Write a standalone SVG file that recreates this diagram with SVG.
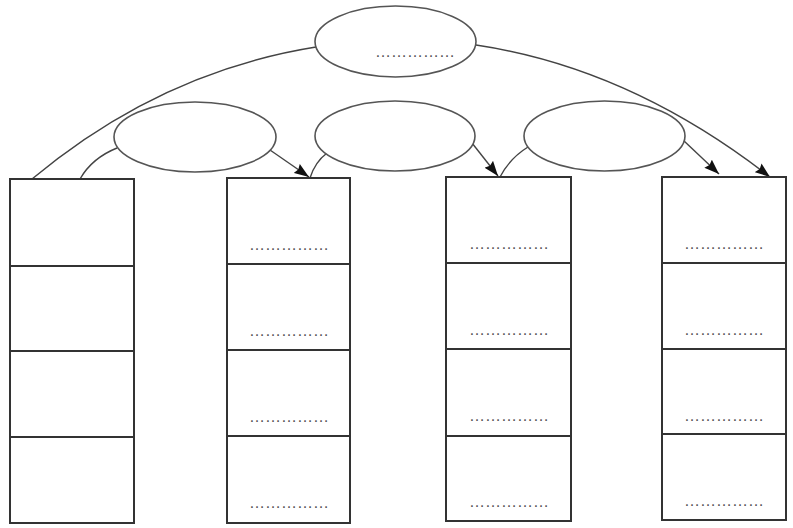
<svg xmlns="http://www.w3.org/2000/svg" width="793" height="528" viewBox="0 0 793 528">
<style>
.box{fill:#fff;stroke:#333;stroke-width:2}
.div{stroke:#333;stroke-width:2}
.ell{fill:#fff;stroke:#555;stroke-width:1.6}
.con{fill:none;stroke:#444;stroke-width:1.4}
.dots{font-family:"Liberation Sans",Arial,sans-serif;font-size:16px;fill:#555}
</style>
<defs>
<marker id="arr" viewBox="0 0 15 11" refX="15" refY="5.5" markerWidth="15" markerHeight="11" markerUnits="userSpaceOnUse" orient="auto">
<path d="M0,0 L15,5.5 L0,11 L2,5.5 Z" fill="#111"/>
</marker>
</defs>
<rect width="793" height="528" fill="#fff"/>
<g id="connectors">
<path class="con" d="M316,47 Q160,72 32,179"/>
<path class="con" d="M476,45 Q630,68 770,177" marker-end="url(#arr)"/>
<path class="con" d="M117,148 Q92,158 80,179"/>
<path class="con" d="M270,150 L309,177" marker-end="url(#arr)"/>
<path class="con" d="M327,153 Q315,162 310,178"/>
<path class="con" d="M472,143 L498,176" marker-end="url(#arr)"/>
<path class="con" d="M528,147 Q510,158 500,177"/>
<path class="con" d="M683,140 L719,174" marker-end="url(#arr)"/>
</g>
<g id="ellipse-top">
<ellipse class="ell" cx="395.5" cy="41.5" rx="80.5" ry="35.5"/>
<text class="dots" x="375" y="57">……………</text>
</g>
<g id="ellipse-1"><ellipse class="ell" cx="195" cy="137" rx="81" ry="35"/></g>
<g id="ellipse-2"><ellipse class="ell" cx="395" cy="136" rx="80" ry="35"/></g>
<g id="ellipse-3"><ellipse class="ell" cx="604.5" cy="136" rx="80.5" ry="35"/></g>
<g id="column-1">
<rect class="box" x="10" y="179" width="124" height="344"/>
<line class="div" x1="10" y1="266" x2="134" y2="266"/>
<line class="div" x1="10" y1="351" x2="134" y2="351"/>
<line class="div" x1="10" y1="437" x2="134" y2="437"/>
</g>
<g id="column-2">
<rect class="box" x="227" y="178" width="123" height="345"/>
<line class="div" x1="227" y1="264" x2="350" y2="264"/>
<line class="div" x1="227" y1="350" x2="350" y2="350"/>
<line class="div" x1="227" y1="436" x2="350" y2="436"/>
<text class="dots" x="249" y="250">……………</text>
<text class="dots" x="249" y="336">……………</text>
<text class="dots" x="249" y="422">……………</text>
<text class="dots" x="249" y="508">……………</text>
</g>
<g id="column-3">
<rect class="box" x="446" y="177" width="125" height="344"/>
<line class="div" x1="446" y1="263" x2="571" y2="263"/>
<line class="div" x1="446" y1="349" x2="571" y2="349"/>
<line class="div" x1="446" y1="436" x2="571" y2="436"/>
<text class="dots" x="469" y="249">……………</text>
<text class="dots" x="469" y="335">……………</text>
<text class="dots" x="469" y="421">……………</text>
<text class="dots" x="469" y="507">……………</text>
</g>
<g id="column-4">
<rect class="box" x="662" y="177" width="124" height="343"/>
<line class="div" x1="662" y1="263" x2="786" y2="263"/>
<line class="div" x1="662" y1="349" x2="786" y2="349"/>
<line class="div" x1="662" y1="434" x2="786" y2="434"/>
<text class="dots" x="684" y="249">……………</text>
<text class="dots" x="684" y="335">……………</text>
<text class="dots" x="684" y="421">……………</text>
<text class="dots" x="684" y="506">……………</text>
</g>
</svg>
